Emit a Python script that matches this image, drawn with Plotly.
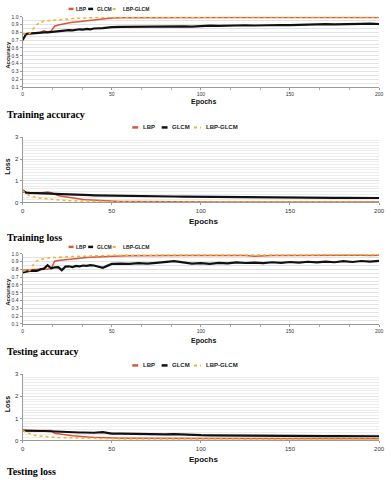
import plotly.graph_objects as go

W, H = 391, 480

EPOCHS = [0, 2, 4, 6, 8, 10, 12, 14, 16, 18, 20, 22, 24, 26, 28, 30, 32, 34, 36, 38, 40,
          45, 50, 55, 60, 65, 70, 75, 80, 85, 90, 95, 100, 105, 110, 115, 120, 125, 130,
          135, 140, 145, 150, 155, 160, 165, 170, 175, 180, 185, 190, 195, 200]

# Training accuracy
TRAIN_ACC_LBP = [0.78, 0.785, 0.79, 0.795, 0.80, 0.80, 0.82, 0.805, 0.82, 0.88, 0.895, 0.905, 0.915, 0.92, 0.93, 0.935,
                 0.94, 0.948, 0.955, 0.96, 0.965, 0.975, 0.985, 0.987, 0.988, 0.989, 0.99, 0.99, 0.99, 0.991, 0.99,
                 0.991, 0.99, 0.991, 0.992, 0.991, 0.992, 0.991, 0.992, 0.992, 0.991, 0.992, 0.993, 0.992, 0.993,
                 0.992, 0.993, 0.993, 0.992, 0.993, 0.993, 0.994, 0.993]
TRAIN_ACC_GLCM = [0.70, 0.78, 0.785, 0.79, 0.79, 0.795, 0.80, 0.80, 0.805, 0.81, 0.815, 0.82, 0.825, 0.83, 0.825,
                  0.835, 0.84, 0.835, 0.845, 0.84, 0.85, 0.855, 0.868, 0.87, 0.872, 0.875, 0.878, 0.875, 0.88,
                  0.882, 0.878, 0.874, 0.883, 0.888, 0.885, 0.89, 0.887, 0.892, 0.889, 0.893, 0.891, 0.895, 0.893,
                  0.898, 0.902, 0.899, 0.905, 0.903, 0.908, 0.905, 0.91, 0.912, 0.908]
TRAIN_ACC_LBPGLCM = [0.78, 0.78, 0.785, 0.85, 0.90, 0.93, 0.945, 0.95, 0.955, 0.96, 0.965, 0.968, 0.97, 0.975,
                     0.978, 0.98, 0.983, 0.985, 0.987, 0.988, 0.99, 0.993, 0.995, 0.995, 0.996, 0.995, 0.996, 0.996,
                     0.995, 0.996, 0.996, 0.997, 0.996, 0.996, 0.997, 0.996, 0.997, 0.997, 0.996, 0.997, 0.997,
                     0.997, 0.996, 0.997, 0.997, 0.997, 0.997, 0.996, 0.997, 0.997, 0.997, 0.997, 0.997]

# Training loss
TRAIN_LOSS_LBP = [0.50, 0.45, 0.44, 0.43, 0.43, 0.44, 0.46, 0.48, 0.45, 0.38, 0.32, 0.29, 0.26, 0.23, 0.20, 0.18,
                  0.16, 0.14, 0.12, 0.11, 0.10, 0.08, 0.06, 0.05, 0.045, 0.04, 0.035, 0.03, 0.03, 0.03, 0.028,
                  0.027, 0.026, 0.025, 0.025, 0.024, 0.024, 0.023, 0.023, 0.022, 0.022, 0.022, 0.021, 0.021, 0.02,
                  0.02, 0.02, 0.02, 0.02, 0.019, 0.019, 0.019, 0.019]
TRAIN_LOSS_GLCM = [0.55, 0.45, 0.44, 0.44, 0.43, 0.43, 0.42, 0.42, 0.41, 0.40, 0.39, 0.38, 0.37, 0.365, 0.36,
                   0.355, 0.35, 0.345, 0.34, 0.335, 0.33, 0.32, 0.31, 0.305, 0.30, 0.295, 0.29, 0.285, 0.28, 0.275,
                   0.27, 0.265, 0.26, 0.255, 0.25, 0.25, 0.245, 0.24, 0.24, 0.235, 0.235, 0.23, 0.23, 0.225, 0.225,
                   0.22, 0.22, 0.215, 0.215, 0.21, 0.21, 0.205, 0.205]
TRAIN_LOSS_LBPGLCM = [0.55, 0.40, 0.32, 0.26, 0.22, 0.20, 0.18, 0.16, 0.14, 0.12, 0.11, 0.10, 0.09, 0.08, 0.075,
                      0.07, 0.065, 0.06, 0.055, 0.05, 0.045, 0.04, 0.035, 0.03, 0.028, 0.026, 0.025, 0.024, 0.023,
                      0.022, 0.022, 0.021, 0.021, 0.02, 0.02, 0.02, 0.019, 0.019, 0.019, 0.018, 0.018, 0.018, 0.018,
                      0.017, 0.017, 0.017, 0.017, 0.016, 0.016, 0.016, 0.016, 0.016, 0.015]

# Testing accuracy
TEST_ACC_LBP = [0.79, 0.79, 0.795, 0.80, 0.80, 0.80, 0.80, 0.805, 0.81, 0.905, 0.915, 0.92, 0.93, 0.935, 0.94,
                0.945, 0.948, 0.95, 0.953, 0.955, 0.958, 0.965, 0.97, 0.972, 0.975, 0.977, 0.978, 0.978, 0.98,
                0.979, 0.98, 0.979, 0.98, 0.98, 0.979, 0.98, 0.98, 0.978, 0.97, 0.979, 0.98, 0.98, 0.981, 0.98,
                0.981, 0.98, 0.981, 0.981, 0.98, 0.981, 0.981, 0.98, 0.981]
TEST_ACC_GLCM = [0.76, 0.775, 0.78, 0.785, 0.78, 0.80, 0.81, 0.855, 0.815, 0.825, 0.83, 0.79, 0.835, 0.84, 0.83,
                 0.845, 0.84, 0.85, 0.845, 0.855, 0.85, 0.82, 0.87, 0.875, 0.87, 0.88, 0.875, 0.885, 0.895, 0.905,
                 0.89, 0.875, 0.88, 0.872, 0.885, 0.878, 0.89, 0.882, 0.888, 0.88, 0.892, 0.885, 0.895, 0.888,
                 0.898, 0.89, 0.9, 0.892, 0.905, 0.895, 0.908, 0.9, 0.91]
TEST_ACC_LBPGLCM = [0.78, 0.78, 0.785, 0.86, 0.91, 0.93, 0.94, 0.945, 0.95, 0.955, 0.958, 0.96, 0.962, 0.964,
                    0.966, 0.968, 0.97, 0.972, 0.973, 0.974, 0.975, 0.978, 0.98, 0.982, 0.983, 0.983, 0.984, 0.984,
                    0.985, 0.984, 0.985, 0.985, 0.985, 0.986, 0.985, 0.986, 0.986, 0.985, 0.986, 0.986, 0.986,
                    0.987, 0.986, 0.987, 0.987, 0.986, 0.987, 0.987, 0.987, 0.987, 0.988, 0.987, 0.988]

# Testing loss
TEST_LOSS_LBP = [0.45, 0.45, 0.46, 0.46, 0.47, 0.47, 0.47, 0.47, 0.45, 0.33, 0.30, 0.27, 0.25, 0.23, 0.21, 0.20,
                 0.18, 0.17, 0.16, 0.15, 0.14, 0.12, 0.11, 0.10, 0.10, 0.095, 0.09, 0.09, 0.088, 0.087, 0.086,
                 0.085, 0.085, 0.084, 0.084, 0.083, 0.083, 0.082, 0.09, 0.082, 0.081, 0.081, 0.08, 0.08, 0.08,
                 0.079, 0.079, 0.079, 0.078, 0.078, 0.078, 0.077, 0.077]
TEST_LOSS_GLCM = [0.45, 0.44, 0.44, 0.44, 0.43, 0.43, 0.43, 0.42, 0.41, 0.40, 0.39, 0.385, 0.38, 0.375, 0.37,
                  0.37, 0.36, 0.36, 0.355, 0.35, 0.35, 0.38, 0.31, 0.31, 0.30, 0.295, 0.29, 0.285, 0.28, 0.285,
                  0.26, 0.25, 0.24, 0.235, 0.23, 0.23, 0.225, 0.22, 0.22, 0.215, 0.215, 0.21, 0.21, 0.205, 0.205,
                  0.20, 0.20, 0.20, 0.195, 0.21, 0.195, 0.19, 0.19]
TEST_LOSS_LBPGLCM = [0.45, 0.38, 0.30, 0.24, 0.21, 0.19, 0.17, 0.155, 0.145, 0.14, 0.13, 0.125, 0.12, 0.115,
                     0.11, 0.105, 0.10, 0.095, 0.09, 0.088, 0.085, 0.08, 0.075, 0.07, 0.068, 0.066, 0.065, 0.064,
                     0.063, 0.062, 0.062, 0.061, 0.061, 0.06, 0.06, 0.06, 0.059, 0.059, 0.059, 0.058, 0.058, 0.058,
                     0.058, 0.057, 0.057, 0.057, 0.057, 0.056, 0.056, 0.056, 0.056, 0.056, 0.055]

SERIES = ["LBP", "GLCM", "LBP-GLCM"]
COLORS = {"LBP": "#d9573f", "GLCM": "#111111", "LBP-GLCM": "#f2b134"}
WIDTHS = {"LBP": 1.5, "GLCM": 2.2, "LBP-GLCM": 1.5}
DASHES = {"LBP": "solid", "GLCM": "solid", "LBP-GLCM": "dot"}

PANELS = [
    dict(kind="acc", caption="Training accuracy", data=[TRAIN_ACC_LBP, TRAIN_ACC_GLCM, TRAIN_ACC_LBPGLCM],
         top=14, bottom=85, legend_y=6, epochs_y=100, caption_y=113),
    dict(kind="loss", caption="Training loss", data=[TRAIN_LOSS_LBP, TRAIN_LOSS_GLCM, TRAIN_LOSS_LBPGLCM],
         top=136, bottom=202, legend_y=126, epochs_y=221, caption_y=237),
    dict(kind="acc", caption="Testing accuracy", data=[TEST_ACC_LBP, TEST_ACC_GLCM, TEST_ACC_LBPGLCM],
         top=254, bottom=325, legend_y=247, epochs_y=342, caption_y=353),
    dict(kind="loss", caption="Testing loss", data=[TEST_LOSS_LBP, TEST_LOSS_GLCM, TEST_LOSS_LBPGLCM],
         top=376, bottom=443, legend_y=367, epochs_y=462, caption_y=474),
]


def px(x):
    return x / W


def py(y):
    return 1 - y / H


SANS = "Liberation Sans, Arial, sans-serif"
SERIF = "Liberation Serif, Times New Roman, serif"

fig = go.Figure()
layout = dict(
    width=W, height=H,
    margin=dict(l=0, r=0, t=0, b=0),
    paper_bgcolor="white", plot_bgcolor="white",
    showlegend=False,
)
shapes = []
annotations = []

for i, p in enumerate(PANELS, start=1):
    xa = "x" if i == 1 else f"x{i}"
    ya = "y" if i == 1 else f"y{i}"
    acc = p["kind"] == "acc"

    for name, values in zip(SERIES, p["data"]):
        fig.add_trace(go.Scatter(
            x=EPOCHS, y=values, mode="lines", name=name,
            line=dict(color=COLORS[name], width=WIDTHS[name], dash=DASHES[name]),
            xaxis=xa, yaxis=ya, showlegend=False,
        ))

    tick_size = 5 if acc else 6
    layout[f"xaxis{'' if i == 1 else i}"] = dict(
        domain=[px(21), px(385)], anchor=ya, range=[0, 200],
        tickvals=[0, 50, 100, 150, 200], showgrid=False, zeroline=False,
        showline=True, linecolor="#9a9a9a", linewidth=1,
        ticks="outside", ticklen=2, tickcolor="#9a9a9a",
        minor=dict(dtick=50 / 3, ticks="outside", ticklen=2, tickcolor="#b0b0b0") if acc else None,
        tickfont=dict(family=SANS, size=tick_size, color="#333"),
    )
    if acc:
        yax = dict(range=[0.1, 1.0], tick0=0.1, dtick=0.1, tickformat=".1f",
                   minor=dict(dtick=0.05, showgrid=True, gridcolor="#e3e3e3", gridwidth=1))
    else:
        yax = dict(range=[0, 3], tick0=0, dtick=1,
                   minor=dict(dtick=0.125, showgrid=True, gridcolor="#ececec", gridwidth=1))
    yax.update(
        domain=[py(p["bottom"]), py(p["top"])], anchor=xa,
        showgrid=True, gridcolor="#e3e3e3", zeroline=False,
        showline=True, linecolor="#9a9a9a", linewidth=1,
        ticks="outside", ticklen=2, tickcolor="#9a9a9a",
        tickfont=dict(family=SANS, size=tick_size, color="#333"),
    )
    layout[f"yaxis{'' if i == 1 else i}"] = yax

    # legend drawn by hand (compact Excel-style keys)
    if acc:
        keys = [(68, 73, 74), (88, 93, 95), (113, 119, 121)]
        lsize = 5
    else:
        keys = [(133, 139, 142), (163, 169, 172), (196, 203, 206)]
        lsize = 6
    for name, (x0, x1, tx) in zip(SERIES, keys):
        shapes.append(dict(
            type="line", xref="paper", yref="paper",
            x0=px(x0), x1=px(x1), y0=py(p["legend_y"]), y1=py(p["legend_y"]),
            line=dict(color=COLORS[name], width=2.5 if name != "LBP-GLCM" else 2, dash=DASHES[name]),
        ))
        annotations.append(dict(
            text=f"<b>{name}</b>", x=px(tx), y=py(p["legend_y"]), xref="paper", yref="paper",
            xanchor="left", yanchor="middle", showarrow=False,
            font=dict(family=SANS, size=lsize, color="#222"),
        ))

    mid = (p["top"] + p["bottom"]) / 2
    annotations.append(dict(
        text="<b>Accuracy</b>" if acc else "<b>Loss</b>",
        x=px(6), y=py(mid + (3 if acc else -3)), xref="paper", yref="paper",
        textangle=-90, showarrow=False, xanchor="center", yanchor="middle",
        font=dict(family=SANS, size=6 if acc else 7, color="#111"),
    ))
    annotations.append(dict(
        text="<b>Epochs</b>", x=px(206), y=py(p["epochs_y"]), xref="paper", yref="paper",
        showarrow=False, xanchor="center", yanchor="middle",
        font=dict(family=SANS, size=7 if acc else 8, color="#111"),
    ))
    annotations.append(dict(
        text=f"<b>{p['caption']}</b>", x=px(3), y=py(p["caption_y"]), xref="paper", yref="paper",
        showarrow=False, xanchor="left", yanchor="middle",
        font=dict(family=SERIF, size=10, color="#000"),
    ))

layout["shapes"] = shapes
layout["annotations"] = annotations
fig.update_layout(**layout)

# drop the default page margin so the figure sits at the window's corner
fig.write_html(
    "out.html",
    config={"displayModeBar": False},
    post_script="document.body.style.margin='0';",
)
